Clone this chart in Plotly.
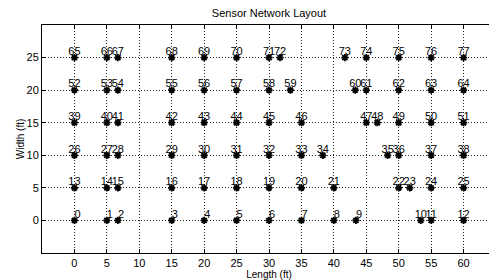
import plotly.graph_objects as go

# Sensor positions (ft), row by row (y = 0, 5, ..., 25)
row_y = [0, 5, 10, 15, 20, 25]
row_x = [
    [0, 5, 6.7, 15, 20, 25, 30, 35, 40, 43.4, 53.4, 55, 60],
    [0, 5, 6.7, 15, 20, 25, 30, 35, 40, 50, 51.7, 55, 60],
    [0, 5, 6.7, 15, 20, 25, 30, 35, 38.3, 48.3, 50, 55, 60],
    [0, 5, 6.7, 15, 20, 25, 30, 35, 45, 46.7, 50, 55, 60],
    [0, 5, 6.7, 15, 20, 25, 30, 33.3, 43.3, 45, 50, 55, 60],
    [0, 5, 6.7, 15, 20, 25, 30, 31.7, 41.7, 45, 50, 55, 60],
]
x_ticks = [0, 5, 10, 15, 20, 25, 30, 35, 40, 45, 50, 55, 60]
y_ticks = [0, 5, 10, 15, 20, 25]

sensor_x, sensor_y, sensor_id = [], [], []
n = 0
for yv, xs in zip(row_y, row_x):
    for xv in xs:
        sensor_x.append(xv)
        sensor_y.append(yv)
        sensor_id.append(str(n))
        n += 1

positions = ["top right" if len(s) == 1 else "top center" for s in sensor_id]

font_family = "Liberation Sans, Arial, sans-serif"

# The page has an 8px body margin, so the figure is 8px smaller than the window
W, H = 489, 272

fig = go.Figure()
fig.add_trace(go.Scatter(
    x=sensor_x, y=sensor_y, mode="markers",
    marker=dict(symbol="asterisk-open", size=6, color="black",
                line=dict(color="black", width=1.8)),
    showlegend=False, hoverinfo="skip",
))
fig.add_trace(go.Scatter(
    x=sensor_x, y=sensor_y, mode="text",
    text=sensor_id, textposition=positions,
    textfont=dict(family=font_family, size=11, color="black"),
    cliponaxis=False, showlegend=False, hoverinfo="skip",
))

axis_common = dict(
    showgrid=True, gridcolor="#222", griddash="1px,2px", gridwidth=1,
    zeroline=False, showline=True, linecolor="black", linewidth=1,
    mirror="ticks", ticks="inside", ticklen=4, tickcolor="black",
    tickfont=dict(family=font_family, size=11, color="black"),
    automargin=False,
)

fig.update_layout(
    width=W, height=H,
    margin=dict(l=34, r=1, t=17, b=27),
    paper_bgcolor="white", plot_bgcolor="white",
    title=dict(text="Sensor Network Layout", x=261 / W, xanchor="center",
               y=1 - 5 / H, yanchor="middle", pad=dict(t=0, b=0),
               font=dict(family=font_family, size=11, color="black")),
    xaxis=dict(range=[-5, 65], tickvals=x_ticks,
               title=dict(text="Length (ft)", standoff=0,
                          font=dict(family=font_family, size=10, color="black")),
               **axis_common),
    yaxis=dict(range=[-5, 30], tickvals=y_ticks,
               title=dict(text="Width (ft)", standoff=0,
                          font=dict(family=font_family, size=10, color="black")),
               **axis_common),
)

fig.write_html("out.html")
